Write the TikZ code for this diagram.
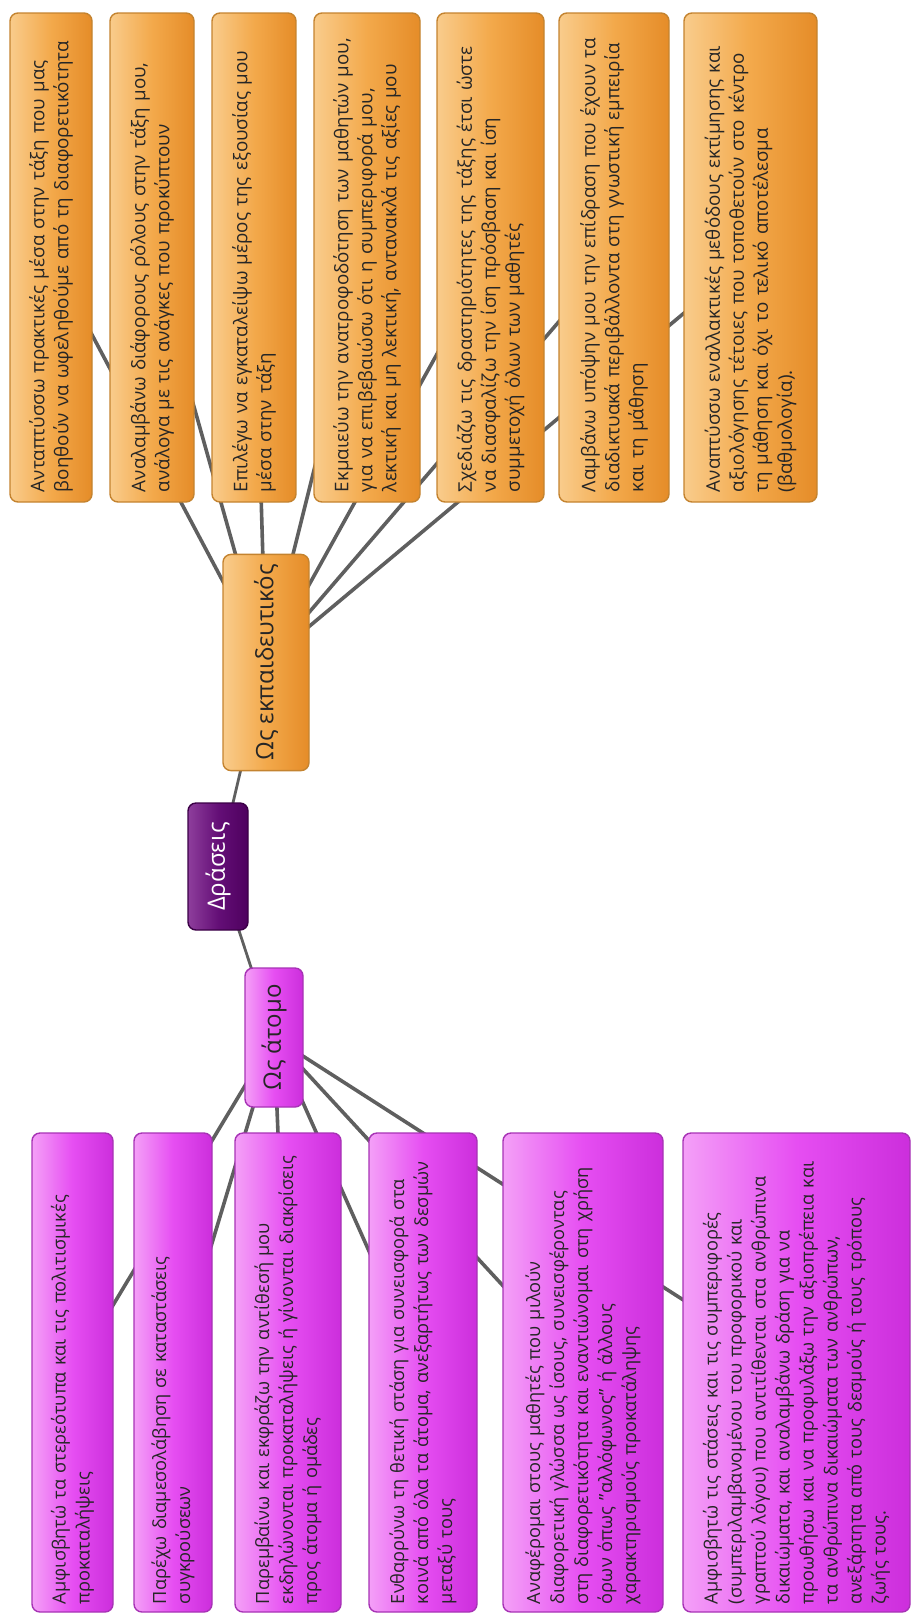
\documentclass[tikz,border=0pt]{standalone}
\usepackage{fontspec}
\setmainfont{Open Sans}
\usetikzlibrary{backgrounds}

\definecolor{orL}{HTML}{F9CC8C}
\definecolor{orM}{HTML}{F3A94B}
\definecolor{orD}{HTML}{E58C28}
\definecolor{orB}{HTML}{C4832F}
\definecolor{mgL}{HTML}{F4A0F7}
\definecolor{mgM}{HTML}{E64EF2}
\definecolor{mgD}{HTML}{CC2EDC}
\definecolor{mgB}{HTML}{A733B5}
\definecolor{vlL}{HTML}{8E3E9C}
\definecolor{vlM}{HTML}{640F77}
\definecolor{vlD}{HTML}{4E005E}
\definecolor{vlB}{HTML}{3B0046}
\definecolor{txt}{HTML}{262626}
\definecolor{lnk}{HTML}{5F5F5F}

\tikzset{
  box/.style={rotate=90, rounded corners=4pt, line width=0.7pt, inner xsep=5pt,
    inner ysep=3pt, font=\fontsize{9.4}{12}\selectfont, text=txt, align=left},
  obox/.style={box, draw=orB, left color=orL, right color=orD, middle color=orM,
    text width=234.5pt},
  pbox/.style={box, draw=mgB, left color=mgL, right color=mgD, middle color=mgM,
    inner xsep=4pt, text width=231.5pt, font=\fontsize{9.1}{12}\selectfont},
  hub/.style={box, align=center, font=\fontsize{12}{14}\selectfont},
  link/.style={draw=lnk, line width=1.8pt},
}

\begin{document}
\begin{tikzpicture}[x=0.5pt, y=-0.5pt]
  \useasboundingbox (0,0) rectangle (912,1618);

  % centre
  \node[hub, draw=vlB, left color=vlL, right color=vlD, middle color=vlM, text=white,
    minimum width=63.5pt, minimum height=30pt] (dr) at (218,866.5) {Δράσεις};
  \node[hub, draw=orB, left color=orL, right color=orD, middle color=orM,
    minimum width=107.5pt, minimum height=43pt] (ed) at (266,662.5) {Ως εκπαιδευτικός};
  \node[hub, draw=mgB, left color=mgL, right color=mgD, middle color=mgM,
    minimum width=69.5pt, minimum height=29pt] (at) at (274,1037.5) {Ως άτομο};

  % as teacher
  \node[obox, minimum height=41pt] (o1) at (51,257.5)
    {Ανταπτύσσω πρακτικές μέσα στην τάξη που μας\\
     βοηθούν να ωφεληθούμε από τη διαφορετικότητα};
  \node[obox, minimum height=42pt] (o2) at (152,257.5)
    {Αναλαμβάνω διάφορους ρόλους στην τάξη μου,\\
     ανάλογα με τις ανάγκες που προκύπτουν};
  \node[obox, minimum height=42pt] (o3) at (254,257.5)
    {Επιλέγω να εγκαταλείψω μέρος της εξουσίας μου\\
     μέσα στην τάξη};
  \node[obox, minimum height=53pt] (o4) at (367,257.5)
    {Εκμαιεύω την ανατροφοδότηση των μαθητών μου,\\
     για να επιβεβαιώσω ότι η συμπεριφορά μου,\\
     λεκτική και μη λεκτική, αντανακλά τις αξίες μου};
  \node[obox, minimum height=53.5pt] (o5) at (490.5,257.5)
    {Σχεδιάζω τις δραστηριότητες της τάξης έτσι ώστε\\
     να διασφαλίζω την ίση πρόσβαση και ίση\\
     συμμετοχή όλων των μαθητές};
  \node[obox, minimum height=55pt] (o6) at (614,257.5)
    {Λαμβάνω υπόψην μου την επίδραση που έχουν τα\\
     διαδικτυακά περιβάλλοντα στη γνωστική εμπειρία\\
     και τη μάθηση};
  \node[obox, minimum height=66.5pt] (o7) at (750.5,257.5)
    {Αναπτύσσω εναλλακτικές μεθόδους εκτίμησης και\\
     αξιολόγησης τέτοιες που τοποθετούν στο κέντρο\\
     τη μάθηση και όχι το τελικό αποτέλεσμα\\
     (βαθμολογία).};

  % as person
  \node[pbox, minimum height=40.5pt] (p1) at (72.5,1372.5)
    {Αμφισβητώ τα στερεότυπα και τις πολιτισμικές\\
     προκαταλήψεις};
  \node[pbox, minimum height=39pt] (p2) at (173,1372.5)
    {Παρέχω διαμεσολάβηση σε καταστάσεις\\
     συγκρούσεων};
  \node[pbox, minimum height=53pt] (p3) at (288,1372.5)
    {Παρεμβαίνω και εκφράζω την αντίθεσή μου\\
     εκδηλώνονται προκαταλήψεις ή γίνονται διακρίσεις\\
     προς άτομα ή ομάδες};
  \node[pbox, minimum height=54pt] (p4) at (423,1372.5)
    {Ενθαρρύνω τη θετική στάση για συνεισφορά στα\\
     κοινά από όλα τα άτομα, ανεξαρτήτως των δεσμών\\
     μεταξύ τους};
  \node[pbox, minimum height=80pt] (p5) at (583,1372.5)
    {Αναφέρομαι στους μαθητές που μιλούν\\
     διαφορετική γλώσσα ως ίσους, συνεισφέροντας\\
     στη διαφορετικότητα και εναντιώνομαι στη χρήση\\
     όρων όπως "αλλόφωνος" ή άλλους\\
     χαρακτηρισμούς προκατάληψης};
  \node[pbox, minimum height=113.5pt] (p6) at (796.5,1372.5)
    {Αμφισβητώ τις στάσεις και τις συμπεριφορές\\
     (συμπεριλαμβανομένου του προφορικού και\\
     γραπτού λόγου) που αντιτίθενται στα ανθρώπινα\\
     δικαιώματα, και αναλαμβάνω δράση για να\\
     προωθήσω και να προφυλάξω την αξιοπρέπεια και\\
     τα ανθρώπινα δικαιώματα των ανθρώπων,\\
     ανεξάρτητα από τους δεσμούς ή τους τρόπους\\
     ζωής τους.};

  \begin{scope}[on background layer]
    \path[link, line width=1.4pt]
      (dr.center) edge (ed.center)
                  edge (at.center);
    \path[link]
      (ed.center) edge (o1.center) edge (o2.center) edge (o3.center)
                  edge (o4.center) edge (o5.center) edge (o6.center)
                  edge (o7.center);
    \path[link]
      (at.center) edge (p1.center) edge (p2.center) edge (p3.center)
                  edge (p4.center) edge (p5.center) edge (p6.center);
  \end{scope}
\end{tikzpicture}
\end{document}
